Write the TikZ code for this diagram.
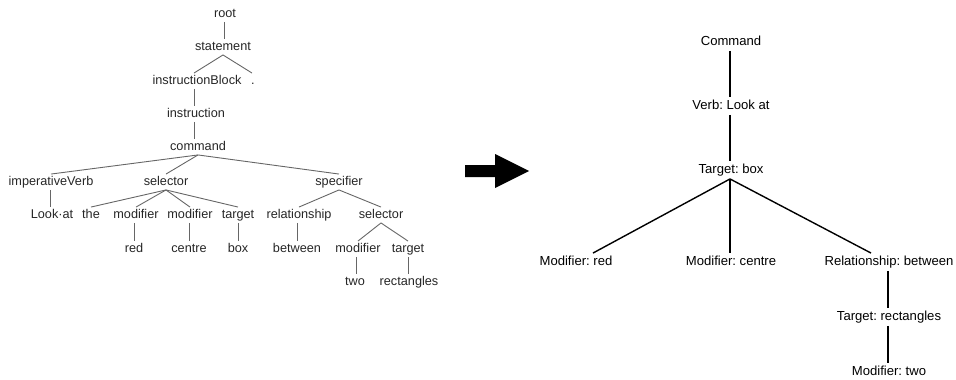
\documentclass[tikz,border=0pt]{standalone}
\usepackage{fontspec}
\setmainfont{Liberation Sans}
\frenchspacing
\begin{document}
\begin{tikzpicture}[x=1pt,y=-1pt,
  ptree/.style={font=\fontsize{12.7}{14}\selectfont, text=black!85, inner sep=2pt,
                text height=9pt, text depth=2.5pt},
  pedge/.style={draw=black!60, line width=0.9pt},
  stree/.style={font=\fontsize{13.1}{15}\selectfont, text=black, inner sep=2.8pt,
                text height=9.3pt, text depth=2.6pt},
  sedge/.style={draw=black, line width=1.4pt}]
\useasboundingbox (0,0) rectangle (956,380);

% ---- parse tree ----
\node[ptree] (root) at (225,14) {root};
\node[ptree] (stmt) at (223,47) {statement};
\node[ptree] (iblock) at (197,81) {instructionBlock};
\node[ptree] (dot) at (253,81) {.};
\node[ptree] (instr) at (196,114) {instruction};
\node[ptree] (cmd) at (198,147) {command};
\node[ptree] (iverb) at (51,182) {imperativeVerb};
\node[ptree] (sel) at (166,182) {selector};
\node[ptree] (spec) at (339,182) {specifier};
\node[ptree] (look) at (52,215) {Look·at};
\node[ptree] (the) at (91,215) {the};
\node[ptree] (mod1) at (136,215) {modifier};
\node[ptree] (mod2) at (190,215) {modifier};
\node[ptree] (tgt1) at (238,215) {target};
\node[ptree] (rel) at (299,215) {relationship};
\node[ptree] (sel2) at (381,215) {selector};
\node[ptree] (red) at (134,249) {red};
\node[ptree] (centre) at (189,249) {centre};
\node[ptree] (box) at (238,249) {box};
\node[ptree] (betw) at (297,249) {between};
\node[ptree] (mod3) at (358,249) {modifier};
\node[ptree] (tgt2) at (408,249) {target};
\node[ptree] (two) at (355,282) {two};
\node[ptree] (rects) at (409,282) {rectangles};

\draw[pedge] (root.south -| 224,0) -- (stmt.north -| 224,0);
\draw[pedge] (stmt.south) -- (iblock.north -| 194,0);
\draw[pedge] (stmt.south) -- (dot.north -| 252,0);
\draw[pedge] (iblock.south -| 194,0) -- (instr.north -| 194,0);
\draw[pedge] (instr.south -| 194,0) -- (cmd.north -| 194,0);
\draw[pedge] (cmd.south) -- (iverb.north);
\draw[pedge] (cmd.south) -- (sel.north);
\draw[pedge] (cmd.south) -- (spec.north);
\draw[pedge] (iverb.south -| 50,0) -- (look.north -| 50,0);
\draw[pedge] (sel.south) -- (the.north);
\draw[pedge] (sel.south) -- (mod1.north);
\draw[pedge] (sel.south) -- (mod2.north);
\draw[pedge] (sel.south) -- (tgt1.north);
\draw[pedge] (mod1.south -| 134,0) -- (red.north -| 134,0);
\draw[pedge] (mod2.south -| 189,0) -- (centre.north -| 189,0);
\draw[pedge] (tgt1.south) -- (box.north);
\draw[pedge] (spec.south) -- (rel.north);
\draw[pedge] (spec.south) -- (sel2.north);
\draw[pedge] (rel.south -| 297,0) -- (betw.north -| 297,0);
\draw[pedge] (sel2.south) -- (mod3.north);
\draw[pedge] (sel2.south) -- (tgt2.north);
\draw[pedge] (mod3.south -| 356,0) -- (two.north -| 356,0);
\draw[pedge] (tgt2.south -| 408,0) -- (rects.north -| 408,0);

% ---- transformation arrow ----
\fill[black] (465,165) -- (495,165) -- (495,154) -- (529,171)
  -- (495,188) -- (495,177) -- (465,177) -- cycle;

% ---- simplified tree ----
\node[stree] (Cmd) at (731,42) {Command};
\node[stree] (Verb) at (731,106) {Verb: Look at};
\node[stree] (Tbox) at (731,170) {Target: box};
\node[stree] (Mred) at (576,262) {Modifier: red};
\node[stree] (Mcentre) at (731,262) {Modifier: centre};
\node[stree] (Rbetw) at (889,262) {Relationship: between};
\node[stree] (Trect) at (889,317) {Target: rectangles};
\node[stree] (Mtwo) at (889,372) {Modifier: two};

\draw[sedge] (Cmd.south -| 730,0) -- (Verb.north -| 730,0);
\draw[sedge] (Verb.south -| 730,0) -- (Tbox.north -| 730,0);
\draw[sedge] (Tbox.south -| 730,0) -- (Mred.north -| 593,0);
\draw[sedge] (Tbox.south -| 730,0) -- (Mcentre.north -| 730,0);
\draw[sedge] (Tbox.south -| 730,0) -- (Rbetw.north -| 871,0);
\draw[sedge] (Rbetw.south -| 888,0) -- (Trect.north -| 888,0);
\draw[sedge] (Trect.south -| 888,0) -- (Mtwo.north -| 888,0);
\end{tikzpicture}
\end{document}
